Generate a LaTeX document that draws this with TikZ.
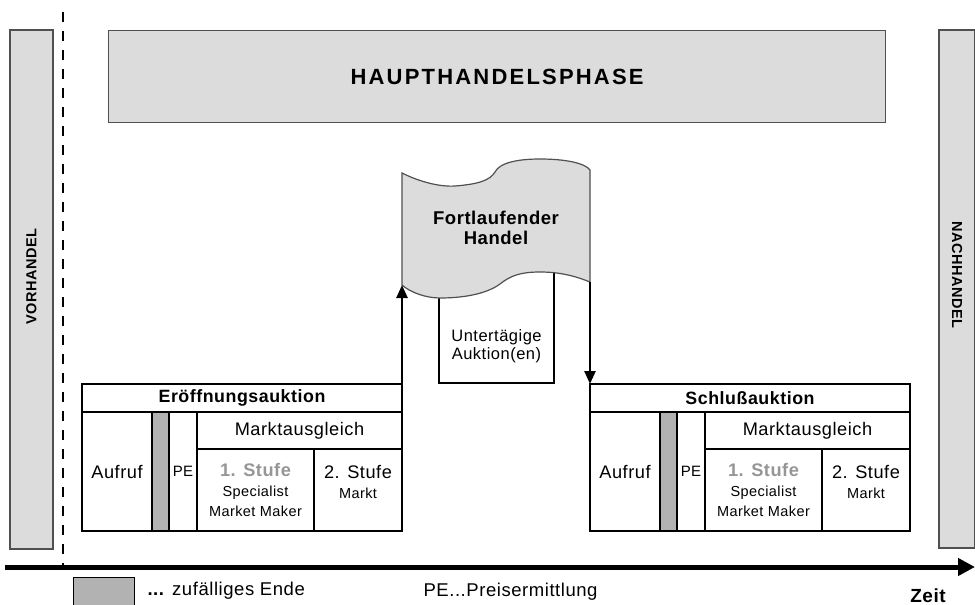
\documentclass[tikz,border=0pt]{standalone}
\usepackage{fontspec}
\setmainfont{Liberation Sans}
\newfontfamily\spacedsans[LetterSpace=3]{Liberation Sans}
\newfontfamily\headsans[LetterSpace=10]{Liberation Sans}
\usetikzlibrary{arrows.meta, positioning}
\definecolor{phasegray}{RGB}{220,220,220}
\definecolor{endgray}{RGB}{178,178,178}
\definecolor{stufegray}{RGB}{150,150,150}
\definecolor{rimgray}{RGB}{80,80,80}
\newcommand{\kleintext}{\spacedsans\fontsize{14.5}{17}\selectfont}

\begin{document}
\begin{tikzpicture}[x=1pt, y=-1pt,
    phase/.style={draw=rimgray, line width=1.2pt, fill=phasegray, inner sep=0pt},
    cell/.style={draw, line width=1.2pt, fill=white, inner sep=0pt, outer sep=0pt, anchor=north west, align=center, font=\spacedsans\fontsize{18.2}{20}\selectfont},
    endbar/.style={cell, fill=endgray},
    pfeil/.style={-{Triangle[length=13pt, width=11pt]}, line width=2.5pt}]
    \useasboundingbox (0,0) rectangle (975,605);

    % Phasen
    \node[phase, minimum width=777pt, minimum height=92pt, anchor=north west, font=\headsans\bfseries\fontsize{22}{24}\selectfont] (haupt) at (108,30) {HAUPTHANDELSPHASE};
    \node[phase, rotate=90, minimum width=519pt, minimum height=43pt, font=\spacedsans\bfseries\fontsize{14.5}{17}\selectfont] (vorhandel) at (31.5,289.5) {\hspace*{26pt}VORHANDEL};
    \node[phase, rotate=-90, minimum width=518pt, minimum height=36pt, font=\spacedsans\bfseries\fontsize{14.5}{17}\selectfont] (nachhandel) at (957,289) {NACHHANDEL\hspace*{28pt}};

    % Beginn des Handelstages
    \coordinate (schnitt-oben) at (63,12);
    \coordinate (schnitt-unten) at (63,566);
    \draw[line width=2.8pt, dash pattern=on 10pt off 9pt] (schnitt-oben) -- (schnitt-unten);

    % Auktionen
    \foreach \x/\titel/\nm in {82/Eröffnungsauktion/er, 590/Schlußauktion/sc}{
        \node[cell, minimum width=320pt, minimum height=28pt, font=\spacedsans\bfseries\fontsize{17.8}{20}\selectfont] (\nm-titel) at (\x,384) {\titel};
        \node[cell, minimum width=70pt, minimum height=119pt] (\nm-aufruf) at (\nm-titel.south west) {Aufruf};
        \node[endbar, minimum width=17pt, minimum height=119pt] (\nm-ende) at (\nm-aufruf.north east) {};
        \node[cell, minimum width=28pt, minimum height=119pt, font=\spacedsans\fontsize{15}{18}\selectfont] (\nm-pe) at (\nm-ende.north east) {PE};
        \node[cell, minimum width=205pt, minimum height=37pt] (\nm-ausgleich) at (\nm-pe.north east) {Marktausgleich};
        \node[cell, minimum width=117pt, minimum height=82pt] (\nm-stufe1) at (\nm-ausgleich.south west) {{\color{stufegray}\bfseries 1. Stufe}\\\kleintext Specialist\\\kleintext Market Maker};
        \node[cell, minimum width=88pt, minimum height=82pt, text depth=17pt] (\nm-stufe2) at (\nm-stufe1.north east) {2. Stufe\\\kleintext Markt};
    }

    % Fortlaufender Handel
    \draw[line width=1.2pt, fill=white] (439,260) rectangle (554,383);
    \node[font=\spacedsans\fontsize{16.5}{18}\selectfont, align=center] (untertaegig) at (496.5,346) {Untertägige\\Auktion(en)};
    \draw[phase] (402,173) .. controls (420,182) and (440,187) .. (455,186)
        .. controls (480,184) and (490,180) .. (495,172)
        .. controls (500,162) and (520,159) .. (540,159)
        .. controls (565,159) and (585,163) .. (590,170)
        -- (590,282)
        .. controls (575,276) and (560,272) .. (540,272)
        .. controls (520,272) and (510,276) .. (500,284)
        .. controls (485,295) and (460,298) .. (440,298)
        .. controls (425,298) and (410,292) .. (402,285) -- cycle;
    \node[font=\spacedsans\bfseries\fontsize{18.5}{20}\selectfont, align=center] (fortlaufend) at (496,228) {Fortlaufender\\Handel};
    \coordinate (flag-links) at (402,285);
    \coordinate (flag-rechts) at (590,282);

    % Uebergaenge
    \draw[pfeil] (er-titel.north east) -- (flag-links);
    \draw[pfeil] (flag-rechts) -- (sc-titel.north west);

    % Zeitachse
    \coordinate (achse-start) at (5,567);
    \coordinate (achse-ende) at (975,567);
    \draw[line width=5pt, -{Triangle[length=17pt, width=17pt]}] (achse-start) -- (achse-ende);
    \node[font=\spacedsans\bfseries\fontsize{19}{22}\selectfont] (zeit) at (928,596) {Zeit};

    % Legende
    \node[endbar, minimum width=61pt, minimum height=28pt, line width=1pt] (legende-box) at (73,577) {};
    \node[right=10pt of legende-box, font=\spacedsans\fontsize{18.5}{20}\selectfont] (legende-ende) {\textbf{...} zufälliges Ende};
    \node[anchor=west, font=\spacedsans\fontsize{18.5}{20}\selectfont] (legende-pe) at (420,592) {PE...Preisermittlung};
\end{tikzpicture}
\end{document}
